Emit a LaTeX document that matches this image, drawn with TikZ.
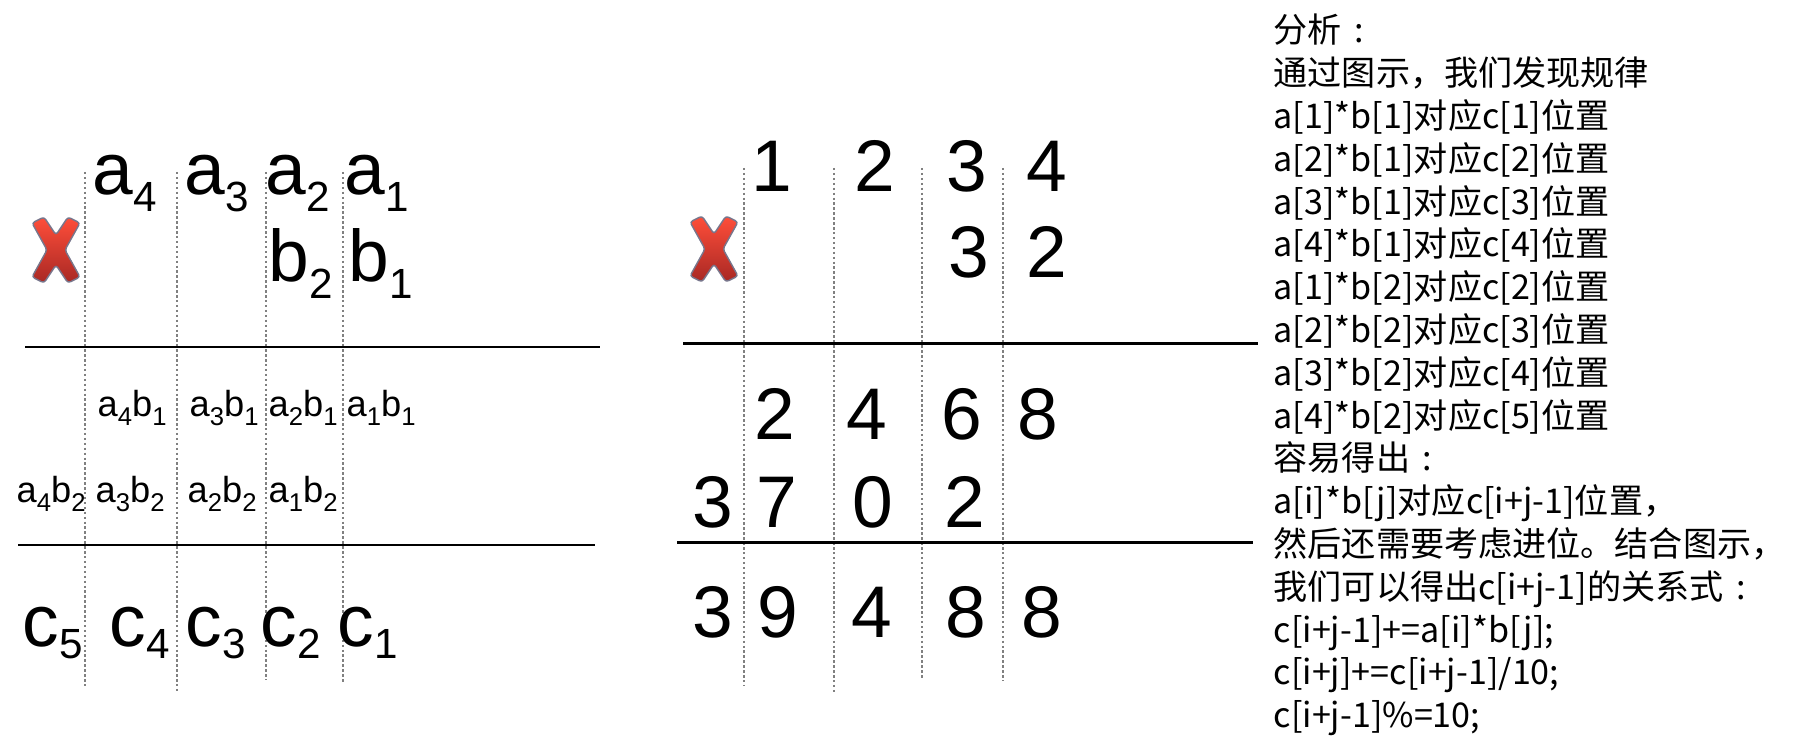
\documentclass[tikz,border=0pt]{standalone}
\usepackage{fontspec}
\setmainfont{Liberation Sans}
\newfontfamily\cjkfont{Noto Sans CJK SC}
\usetikzlibrary{positioning}
\definecolor{xtop}{RGB}{255,78,58}
\definecolor{xbottom}{RGB}{168,40,36}
\definecolor{xedge}{RGB}{120,118,140}

% letter with lowered index
\newcommand{\bigterm}[3][4.6pt]{#2\raisebox{-#1}{\fontsize{12pt}{12pt}\selectfont #3}}
\newcommand{\prodterm}[4]{#1\raisebox{-2.3pt}{\fontsize{7.3pt}{7.3pt}\selectfont #2}#3\raisebox{-2.3pt}{\fontsize{7.3pt}{7.3pt}\selectfont #4}}
% centred full-width colon
\newcommand{\zhcolon}{\makebox[1em][c]{:}}

\tikzset{
  redx/.pic={
    \shadedraw[top color=xtop, bottom color=xbottom, draw=xedge, line width=0.4pt, rounded corners=0.8pt]
      (-24,-27) -- (-12,-33) -- (0,-15) -- (12,-33) -- (24,-27) -- (9,0) -- (24,27) -- (12,33)
      -- (0,15) -- (-12,33) -- (-24,27) -- (-9,0) -- cycle;
  }
}

\begin{document}
\begin{tikzpicture}[
  x=0.01cm, y=-0.01cm,
  big/.style={font=\fontsize{20.8pt}{24pt}\selectfont, inner sep=0pt, anchor=base west},
  digit/.style={font=\fontsize{20.8pt}{24pt}\selectfont, inner sep=0pt, anchor=base},
  small/.style={font=\fontsize{10.3pt}{12pt}\selectfont, inner sep=0pt, anchor=base west},
  note/.style={font=\cjkfont\fontsize{9.7pt}{12pt}\selectfont, inner sep=0pt, anchor=base west},
  rule/.style={line width=0.85pt},
  grid/.style={gray, line width=0.35pt, dash pattern=on 0.7pt off 0.7pt}
]
\useasboundingbox (0,0) rectangle (1811,749);

% left: letters
\foreach \x/\ya/\yb in {85/172/688, 177/172/691, 266/172/680, 343/172/683}
  \draw[grid] (\x,\ya) -- (\x,\yb);
\pic at (56,250) {redx};
\node[big] (a4) at (92,195) {\bigterm{a}{4}};
\node[big] (a3) at (184,195) {\bigterm{a}{3}};
\node[big] (a2) at (265,195) {\bigterm{a}{2}};
\node[big] (a1) at (344,195) {\bigterm{a}{1}};
\node[big] (b2) at (268,282) {\bigterm{b}{2}};
\node[big] (b1) at (348,282) {\bigterm{b}{1}};
\draw[rule] (25,347) -- (600,347);

\node[small] (a4b1) at (97,417) {\prodterm{a}{4}{b}{1}};
\node[small] (a3b1) at (189,417) {\prodterm{a}{3}{b}{1}};
\node[small] (a2b1) at (268,417) {\prodterm{a}{2}{b}{1}};
\node[small] (a1b1) at (346,417) {\prodterm{a}{1}{b}{1}};
\node[small] (a4b2) at (16,503) {\prodterm{a}{4}{b}{2}};
\node[small] (a3b2) at (95,503) {\prodterm{a}{3}{b}{2}};
\node[small] (a2b2) at (187,503) {\prodterm{a}{2}{b}{2}};
\node[small] (a1b2) at (268,503) {\prodterm{a}{1}{b}{2}};
\draw[rule] (18,545) -- (595,545);

\node[big] (c5) at (22,647) {\bigterm[3.4pt]{c}{5}};
\node[big] (c4) at (109,647) {\bigterm[3.4pt]{c}{4}};
\node[big] (c3) at (185,647) {\bigterm[3.4pt]{c}{3}};
\node[big] (c2) at (260,647) {\bigterm[3.4pt]{c}{2}};
\node[big] (c1) at (337,647) {\bigterm[3.4pt]{c}{1}};

% middle: numbers
\foreach \x/\ya/\yb in {744/168/685, 834/168/693, 922/168/679, 1003/168/681}
  \draw[grid] (\x,\ya) -- (\x,\yb);
\pic at (714,249) {redx};
\foreach \d/\x [count=\i] in {1/772, 2/875, 3/967, 4/1047}
  \node[digit] (u\i) at (\x,192) {\d};
\foreach \d/\x [count=\i] in {3/969, 2/1047}
  \node[digit] (v\i) at (\x,278) {\d};
\draw[rule] (683,343.5) -- (1258,343.5);
\foreach \d/\x [count=\i] in {2/775, 4/867, 6/962, 8/1038}
  \node[digit] (p\i) at (\x,440) {\d};
\foreach \d/\x [count=\i] in {3/713, 7/777, 0/873, 2/965}
  \node[digit] (q\i) at (\x,528) {\d};
\draw[rule] (677,542.5) -- (1253,542.5);
\foreach \d/\x [count=\i] in {3/713, 9/778, 4/872, 8/966, 8/1042}
  \node[digit] (s\i) at (\x,638) {\d};

% right: notes
\foreach \t [count=\i from 0] in {
  {分析\zhcolon},
  {通过图示，我们发现规律},
  {a[1]*b[1]对应c[1]位置},
  {a[2]*b[1]对应c[2]位置},
  {a[3]*b[1]对应c[3]位置},
  {a[4]*b[1]对应c[4]位置},
  {a[1]*b[2]对应c[2]位置},
  {a[2]*b[2]对应c[3]位置},
  {a[3]*b[2]对应c[4]位置},
  {a[4]*b[2]对应c[5]位置},
  {容易得出\zhcolon},
  {a[i]*b[j]对应c[i+j-1]位置，},
  {然后还需要考虑进位。结合图示，},
  {我们可以得出c[i+j-1]的关系式\zhcolon},
  {c[i+j-1]+=a[i]*b[j];},
  {c[i+j]+=c[i+j-1]/10;},
  {c[i+j-1]\%=10;}}
  \node[note] (line\i) at (1273,43+42.8*\i) {\t};

\end{tikzpicture}
\end{document}
